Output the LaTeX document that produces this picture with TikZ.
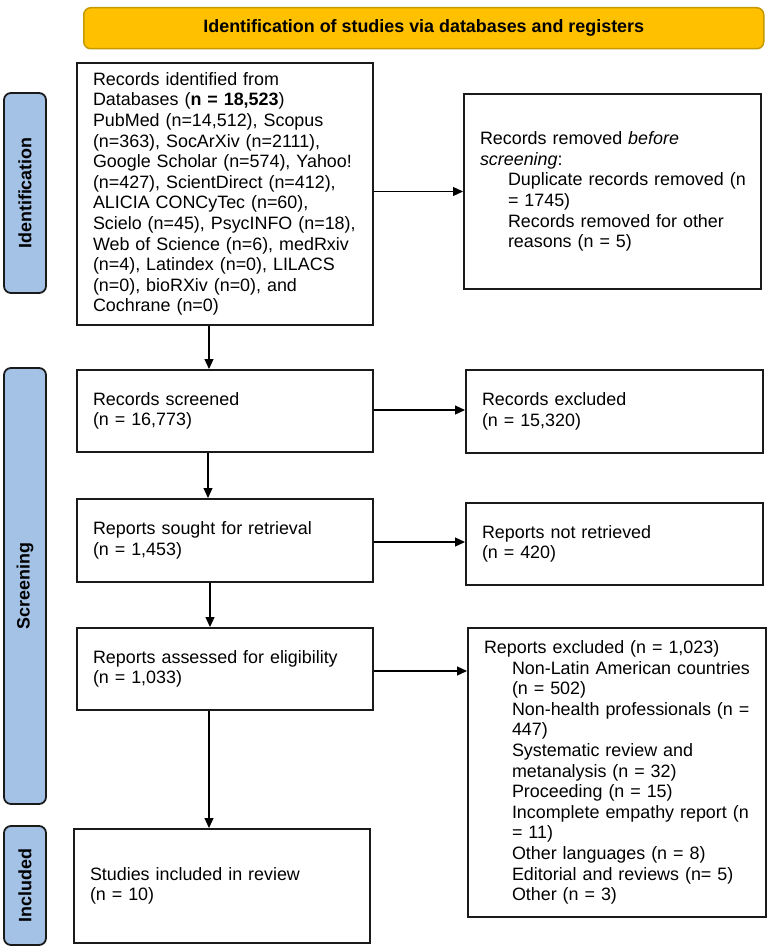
\documentclass[tikz,border=0pt]{standalone}
\usepackage{fontspec}
\setmainfont{Liberation Sans}
\usetikzlibrary{arrows.meta,calc}
\definecolor{hdrfill}{HTML}{FFC000}
\definecolor{hdrline}{HTML}{C49A00}
\definecolor{sidefill}{HTML}{A3C2E6}
\definecolor{boxline}{HTML}{1A1A1A}
\newcommand\fs{\fontsize{17.9}{20.6}\selectfont}
\newcommand\ind{\hspace*{28pt}}
\begin{document}
\begin{tikzpicture}[x=1pt,y=1pt,
  box/.style={draw=boxline, line width=2pt, rectangle, anchor=north west,
    inner xsep=16pt, inner ysep=0pt, align=left, font=\fs, text=black},
  hdrbox/.style={draw=hdrline, fill=hdrfill, line width=1.5pt, rounded corners=7pt,
    anchor=north west, inner sep=0pt, font=\fs\bfseries, align=center},
  sidebox/.style={draw=boxline, fill=sidefill, line width=1.8pt, rounded corners=7pt,
    rotate=90, inner sep=0pt, font=\fs\bfseries},
  arr/.style={draw=black, line width=1.2pt, -{Triangle[length=10pt,width=9pt]}}
]
\useasboundingbox (0,0) rectangle (767,-950);
\fill[white] (0,0) rectangle (767,-950);

% header
\node[hdrbox, minimum width=680pt, minimum height=41pt] (hdr) at (83,-7)
  {Identification of studies via databases and registers};

% side labels
\node[sidebox, minimum width=200pt, minimum height=42pt] (sid) at (25,-193) {Identification};
\node[sidebox, minimum width=436pt, minimum height=42pt] (sscr) at (25,-586) {Screening};
\node[sidebox, minimum width=119pt, minimum height=42pt] (sinc) at (25,-885.5) {Included};

% left column
\node[box, text width=264pt, minimum height=262pt] (id) at (76,-62)
  {Records identified from\\
   Databases (\textbf{n = 18,523})\\
   \mbox{PubMed (n=14,512), Scopus}\\
   \mbox{(n=363), SocArXiv (n=2111),}\\
   \mbox{Google Scholar (n=574), Yahoo!}\\
   \mbox{(n=427), ScientDirect (n=412),}\\
   ALICIA CONCyTec (n=60),\\
   \mbox{Scielo (n=45), PsycINFO (n=18),}\\
   \mbox{Web of Science (n=6), medRxiv}\\
   \mbox{(n=4), Latindex (n=0), LILACS}\\
   (n=0), bioRXiv (n=0), and\\
   Cochrane (n=0)};

\node[box, text width=264pt, minimum height=82pt] (scr) at (76,-369)
  {Records screened\\ (n = 16,773)};
\node[box, text width=264pt, minimum height=83pt] (sou) at (76,-498)
  {Reports sought for retrieval\\ (n = 1,453)};
\node[box, text width=264pt, minimum height=82pt] (ass) at (76,-627)
  {Reports assessed for eligibility\\ (n = 1,033)};
\node[box, text width=264pt, minimum height=114pt] (inc) at (73,-828)
  {Studies included in review\\ (n = 10)};

% right column
\node[box, text width=265pt, minimum height=195pt] (rem) at (463,-93)
  {Records removed \textit{before}\\
   \textit{screening}:\\
   \ind\mbox{Duplicate records removed (n}\\
   \ind = 1745)\\
   \ind Records removed for other\\
   \ind reasons (n = 5)};
\node[box, text width=265pt, minimum height=83pt] (exc) at (465,-369)
  {Records excluded\\ (n = 15,320)};
\node[box, text width=265pt, minimum height=82pt] (nre) at (465,-502)
  {Reports not retrieved\\ (n = 420)};
\node[box, text width=266pt, minimum height=289pt] (rex) at (467,-627)
  {Reports excluded (n = 1,023)\\
   \ind\mbox{Non-Latin American countries}\\
   \ind (n = 502)\\
   \ind\mbox{Non-health professionals (n =}\\
   \ind 447)\\
   \ind Systematic review and\\
   \ind metanalysis (n = 32)\\
   \ind Proceeding (n = 15)\\
   \ind\mbox{Incomplete empathy report (n}\\
   \ind = 11)\\
   \ind Other languages (n = 8)\\
   \ind\mbox{Editorial and reviews (n= 5)}\\
   \ind Other (n = 3)};

% vertical arrows
\draw[arr] ([xshift=-16pt]id.south) -- ([xshift=-16pt]id.south |- scr.north);
\draw[arr] ([xshift=-17pt]scr.south) -- ([xshift=-17pt]scr.south |- sou.north);
\draw[arr] ([xshift=-15pt]sou.south) -- ([xshift=-15pt]sou.south |- ass.north);
\draw[arr] ([xshift=-16pt]ass.south) -- ([xshift=-16pt]ass.south |- inc.north);

% horizontal arrows
\draw[arr] (rem.west -| id.east) -- (rem.west);
\draw[arr] ([yshift=1pt]scr.east) -- ([yshift=1pt]scr.east -| exc.west);
\draw[arr] ([yshift=-1.5pt]sou.east) -- ([yshift=-1.5pt]sou.east -| nre.west);
\draw[arr] ([yshift=-2pt]ass.east) -- ([yshift=-2pt]ass.east -| rex.west);
\end{tikzpicture}
\end{document}
